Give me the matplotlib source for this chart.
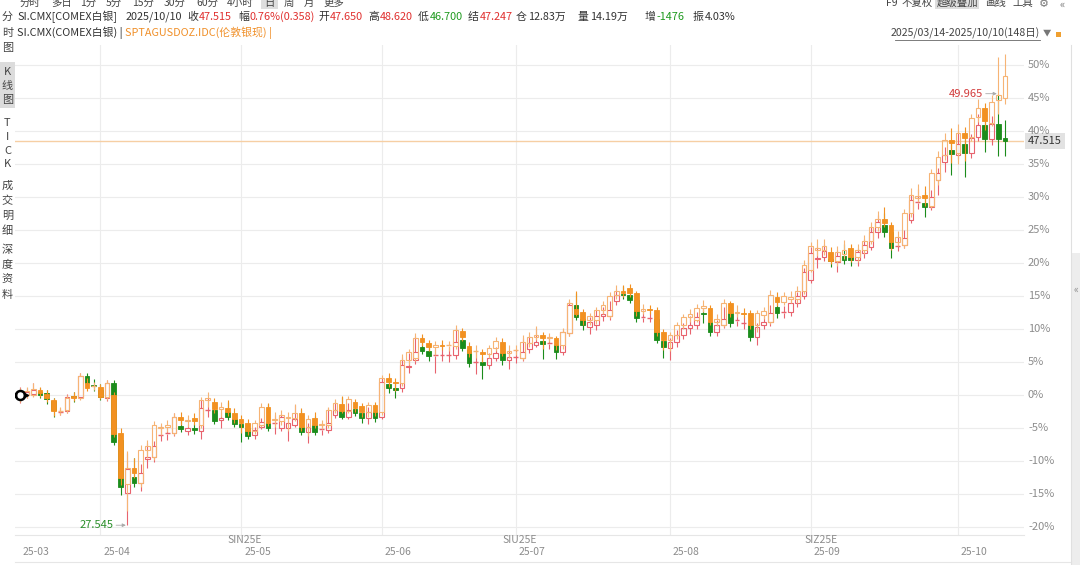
import matplotlib
matplotlib.use("Agg")
import matplotlib.pyplot as plt
from matplotlib.patches import Rectangle

plt.rcParams['font.family'] = ['Noto Sans CJK SC', 'DejaVu Sans']

# SI.CMX (COMEX silver) daily candles, % change vs 2025/03/14 close
si_open = [-0.3, 0.0, 0.1, 0.5, 0.3, -0.9, -2.6, -2.4, -0.2, -0.3,
           2.9, 1.4, 0.8, -0.5, 1.8, -6.8, -14.8, -12.4, -13.3, -9.7,
           -9.4, -6.1, -5.9, -5.8, -4.7, -5.5, -5.0, -5.5, -2.3, -2.3,
           -3.8, -2.6, -3.6, -4.4, -5.0, -6.1, -4.8, -4.2, -4.2, -5.0,
           -5.0, -4.5, -4.8, -5.6, -4.5, -5.3, -5.3, -3.0, -2.4, -3.3,
           -2.1, -2.7, -3.5, -2.6, -3.3, 1.7, 1.0, 1.0, 4.2, 5.3,
           7.3, 6.7, 5.9, 6.0, 6.0, 6.0, 8.3, 6.8, 5.0, 5.0,
           4.5, 5.6, 6.4, 5.3, 5.8, 5.6, 7.0, 7.6, 8.2, 7.7,
           7.6, 6.5, 9.4, 13.7, 11.5, 10.3, 10.6, 12.0, 12.0, 14.2,
           15.3, 15.1, 14.4, 11.7, 11.7, 11.5, 8.2, 7.1, 8.0, 9.1,
           10.2, 10.6, 12.4, 11.1, 9.5, 10.6, 12.4, 11.2, 10.9, 10.6,
           8.8, 10.6, 11.1, 13.3, 12.4, 12.5, 13.9, 15.0, 17.4, 20.6,
           20.9, 20.6, 20.2, 21.0, 20.9, 20.5, 21.5, 22.4, 24.7, 25.8,
           24.7, 22.5, 22.7, 26.5, 29.1, 29.1, 28.5, 32.6, 35.3, 37.1,
           36.4, 38.0, 36.7, 39.1, 40.9, 38.8, 41.1, 38.9]
si_close = [0.0, 0.4, 0.7, 0.0, -0.6, -2.3, -2.5, -0.3, -0.3, 2.9,
            1.8, 1.3, -0.3, 1.8, -7.1, -13.9, -11.2, -13.3, -11.8, -9.4,
            -7.7, -6.0, -5.8, -3.3, -5.2, -5.0, -5.3, -2.0, -2.3, -3.9,
            -3.5, -3.3, -4.4, -4.8, -6.2, -5.3, -4.1, -5.0, -4.2, -3.3,
            -4.3, -3.6, -5.6, -4.8, -5.6, -5.2, -4.2, -2.3, -3.3, -2.3,
            -2.7, -3.5, -2.6, -3.5, 2.0, 1.1, 0.8, 4.5, 4.4, 6.5,
            6.7, 5.9, 6.0, 6.0, 6.0, 8.0, 7.1, 4.8, 5.0, 4.5,
            5.6, 6.4, 5.3, 5.8, 5.8, 6.5, 7.9, 8.0, 7.7, 7.8,
            6.5, 9.5, 13.7, 11.8, 10.6, 11.0, 12.0, 12.3, 12.9, 15.2,
            15.2, 14.4, 11.7, 11.8, 11.7, 8.3, 7.3, 8.0, 9.1, 10.2,
            10.6, 11.8, 12.3, 9.5, 10.6, 11.5, 10.9, 11.3, 10.9, 8.8,
            10.3, 11.1, 12.4, 12.4, 12.5, 13.9, 15.0, 18.6, 21.5, 20.8,
            21.8, 20.3, 21.0, 20.5, 20.5, 21.7, 22.7, 24.7, 26.2, 24.7,
            22.3, 22.6, 23.8, 29.5, 29.2, 28.5, 30.0, 33.6, 36.4, 36.5,
            38.0, 36.7, 38.9, 40.9, 38.8, 41.1, 38.8, 38.5]
si_high = [1.2, 1.0, 1.8, 1.0, 0.8, -0.5, -2.0, 0.2, 0.5, 3.4,
           3.3, 2.4, 1.6, 2.3, 2.2, -6.0, -8.8, -9.6, -10.5, -7.2,
           -7.0, -4.5, -4.9, -2.8, -3.6, -4.4, -4.4, -0.8, -0.5, -1.8,
           -2.5, -1.0, -3.0, -3.8, -4.5, -4.8, -3.5, -1.4, -3.0, -2.9,
           -3.8, -1.5, -2.3, -4.3, -3.2, -4.3, -2.0, -1.0, -0.3, -1.2,
           -1.2, -1.9, -1.8, -1.4, 2.6, 2.7, 1.8, 5.8, 6.3, 9.0,
           8.8, 7.8, 7.0, 7.8, 7.2, 10.2, 9.1, 7.3, 6.8, 5.8,
           6.4, 7.3, 7.0, 6.6, 6.9, 8.7, 9.0, 10.2, 9.0, 8.9,
           8.0, 10.0, 14.3, 15.5, 12.6, 11.8, 12.8, 13.4, 14.2, 16.0,
           16.5, 16.0, 14.9, 12.9, 12.8, 11.9, 8.9, 8.7, 9.8, 10.9,
           12.0, 12.6, 13.2, 11.7, 11.3, 13.4, 12.9, 12.6, 12.0, 11.3,
           10.9, 12.0, 13.6, 14.1, 13.5, 14.4, 15.6, 19.2, 22.4, 22.6,
           22.8, 21.5, 22.0, 22.8, 22.0, 22.3, 23.6, 25.5, 27.2, 27.6,
           25.2, 24.0, 25.0, 30.5, 31.2, 30.8, 31.0, 34.4, 37.6, 38.3,
           40.0, 38.8, 39.5, 42.6, 42.0, 42.2, 45.6, 41.7]
si_low = [-1.2, -0.5, -0.2, -0.5, -1.4, -3.3, -3.0, -2.8, -1.0, -0.6,
          1.2, 0.6, -0.8, -0.9, -7.6, -15.2, -19.7, -13.9, -14.6, -11.0,
          -10.1, -7.0, -6.8, -6.2, -5.6, -6.0, -5.9, -6.6, -3.3, -4.4,
          -5.0, -3.8, -4.9, -7.1, -6.6, -6.6, -5.2, -5.5, -5.9, -5.5,
          -6.9, -4.9, -6.0, -7.2, -6.1, -6.0, -5.8, -3.5, -3.7, -3.7,
          -3.2, -4.2, -4.4, -4.1, -3.7, 0.3, -0.5, 0.5, 3.4, 4.7,
          6.2, 5.2, 3.4, 5.2, 5.0, 5.5, 6.6, 4.2, 3.2, 2.4,
          4.0, 5.1, 4.6, 3.9, 4.8, 5.2, 6.3, 7.3, 5.5, 7.0,
          5.4, 6.0, 9.0, 11.3, 9.8, 9.2, 9.8, 11.2, 11.3, 13.6,
          14.5, 13.9, 11.0, 11.0, 11.0, 7.8, 5.6, 5.3, 7.2, 8.5,
          9.3, 10.0, 10.9, 9.0, 9.0, 10.1, 10.3, 10.4, 10.0, 8.2,
          7.5, 10.0, 10.5, 11.7, 11.6, 12.0, 13.4, 14.5, 17.0, 19.3,
          20.3, 19.4, 18.7, 19.8, 19.6, 19.5, 20.8, 22.0, 23.8, 24.0,
          20.8, 21.8, 22.2, 26.0, 28.2, 26.9, 28.0, 30.3, 33.8, 33.3,
          35.8, 33.0, 35.9, 38.5, 36.8, 37.9, 36.2, 36.2]

# SPTAGUSDOZ.IDC (London spot silver) overlay, % change vs 2025/03/14 close
ag_open = [-0.3, 0.0, 0.0, 0.8, 0.2, -0.8, -2.5, -2.3, -0.2, -0.5,
           1.8, 1.3, 1.2, -0.3, 0.0, -5.8, -13.5, -11.1, -13.3, -8.3,
           -9.4, -5.0, -4.8, -5.8, -3.3, -4.0, -3.5, -4.5, -0.8, -1.0,
           -2.1, -2.0, -2.7, -3.6, -4.2, -5.5, -4.5, -1.8, -3.8, -4.0,
           -3.5, -3.5, -2.7, -4.8, -3.5, -4.6, -4.5, -2.3, -1.4, -2.4,
           -1.1, -1.7, -2.6, -1.5, -2.6, 2.6, 2.0, 1.8, 5.3, 5.6,
           8.6, 7.9, 7.3, 7.6, 7.4, 7.4, 9.7, 7.4, 6.6, 6.5,
           6.2, 7.1, 8.0, 6.4, 6.7, 5.6, 7.9, 8.8, 9.1, 8.6,
           8.6, 7.6, 9.4, 13.0, 12.6, 11.4, 11.3, 12.9, 12.0, 15.2,
           15.8, 16.2, 15.4, 12.7, 13.0, 12.9, 9.5, 8.3, 9.1, 10.6,
           11.8, 11.4, 13.2, 13.2, 11.1, 10.6, 13.9, 12.4, 12.4, 12.4,
           10.6, 12.1, 11.1, 14.8, 14.1, 14.5, 14.5, 15.8, 19.0, 22.0,
           22.0, 21.7, 20.3, 21.3, 22.3, 20.9, 22.0, 23.3, 25.5, 26.6,
           25.8, 23.2, 22.7, 27.6, 29.9, 30.3, 28.6, 32.6, 36.4, 38.6,
           36.7, 39.7, 39.1, 42.1, 43.5, 41.2, 44.7, 45.0]
ag_close = [0.0, 0.6, 0.9, 0.3, -0.4, -2.4, -2.4, -0.5, -0.4, 2.9,
            1.1, 1.4, -0.3, 1.8, -5.9, -12.6, -11.0, -11.8, -8.3, -7.7,
            -4.5, -4.8, -4.6, -3.3, -3.8, -3.8, -3.9, -0.8, -0.5, -2.1,
            -1.8, -2.6, -3.6, -4.2, -5.5, -4.2, -1.8, -4.2, -3.6, -3.0,
            -3.3, -2.7, -4.8, -3.6, -4.5, -4.4, -2.3, -1.2, -2.4, -0.6,
            -2.0, -2.6, -1.5, -2.6, 2.6, 2.0, 1.8, 5.3, 6.5, 8.6,
            8.0, 7.3, 7.6, 7.4, 7.5, 9.8, 8.8, 6.4, 6.6, 6.2,
            7.1, 8.2, 6.4, 6.7, 6.8, 8.0, 8.8, 9.1, 8.6, 8.8,
            7.6, 9.6, 14.0, 12.3, 11.4, 11.9, 12.9, 13.6, 15.0, 15.8,
            15.4, 15.4, 12.7, 13.0, 12.9, 9.5, 8.3, 9.1, 10.6, 11.8,
            12.2, 13.2, 13.5, 11.1, 11.5, 13.9, 12.4, 12.6, 12.3, 10.6,
            12.4, 12.7, 15.2, 14.1, 15.0, 14.9, 15.8, 19.7, 22.5, 22.2,
            22.6, 20.3, 21.6, 22.0, 20.9, 22.0, 23.3, 25.5, 26.6, 26.1,
            23.2, 24.0, 27.6, 30.3, 30.2, 29.9, 33.6, 36.1, 38.6, 38.2,
            39.7, 38.9, 42.0, 43.5, 41.5, 44.4, 45.5, 48.3]
ag_high = [1.0, 1.2, 1.8, 1.2, 0.8, -0.4, -1.8, 0.0, 0.4, 3.3,
           2.6, 2.0, 1.6, 2.2, 0.5, -5.0, -8.5, -9.5, -7.6, -6.8,
           -4.0, -4.2, -3.8, -2.8, -2.6, -3.0, -2.8, -0.3, 0.5, -0.5,
           -1.0, -0.8, -2.0, -3.0, -3.7, -3.8, -1.2, -1.2, -2.6, -2.2,
           -2.5, -1.3, -2.0, -3.1, -2.6, -3.8, -1.8, -0.6, -0.2, -0.2,
           -0.6, -1.2, -1.0, -1.0, 3.0, 3.3, 2.6, 6.2, 7.0, 9.4,
           9.2, 8.4, 8.2, 8.4, 8.2, 10.6, 10.2, 8.0, 7.6, 7.0,
           7.6, 8.8, 8.6, 7.5, 7.6, 9.1, 9.6, 10.4, 9.6, 9.4,
           9.0, 10.2, 14.6, 15.7, 13.0, 12.4, 13.4, 14.2, 15.6, 16.6,
           16.6, 16.8, 15.8, 13.8, 13.7, 13.3, 10.0, 9.6, 11.1, 12.3,
           13.0, 13.8, 14.4, 13.6, 12.3, 14.5, 14.2, 13.6, 13.2, 12.8,
           12.9, 13.4, 15.9, 15.6, 15.6, 15.8, 16.5, 20.4, 23.2, 23.6,
           23.6, 22.4, 22.5, 23.4, 22.9, 22.8, 24.2, 26.2, 27.8, 28.4,
           26.2, 24.9, 28.2, 31.3, 32.0, 31.6, 34.2, 36.9, 39.6, 40.4,
           41.0, 40.6, 42.6, 44.8, 44.2, 45.4, 51.2, 51.6]
ag_low = [-1.0, -0.4, -0.3, -0.3, -1.0, -3.2, -3.0, -2.7, -0.9, -0.7,
          0.6, 0.7, -0.6, -0.7, -6.3, -13.6, -17.5, -12.6, -13.9, -9.5,
          -9.9, -6.0, -5.6, -6.0, -4.6, -4.8, -4.6, -5.0, -1.8, -2.8,
          -3.4, -3.2, -4.2, -5.8, -6.0, -5.9, -4.9, -4.7, -4.8, -4.6,
          -5.5, -4.0, -5.4, -6.2, -5.0, -5.2, -5.0, -2.8, -2.8, -2.8,
          -2.5, -3.3, -3.4, -3.2, -3.0, 1.2, 0.6, 1.3, 4.6, 5.2,
          7.4, 6.6, 6.0, 6.8, 6.6, 7.0, 8.2, 5.8, 5.6, 5.0,
          5.6, 6.6, 5.9, 5.6, 6.0, 5.3, 7.2, 8.3, 7.0, 8.0,
          6.8, 7.0, 9.0, 11.9, 10.6, 10.6, 10.8, 12.3, 11.7, 14.6,
          14.9, 14.8, 12.0, 12.2, 12.2, 9.0, 6.8, 6.6, 8.5, 10.0,
          11.0, 11.0, 12.5, 10.6, 10.5, 10.3, 11.8, 11.8, 11.6, 10.0,
          9.6, 11.5, 10.8, 13.5, 13.6, 13.9, 14.0, 15.3, 18.6, 21.0,
          21.2, 19.8, 19.6, 20.6, 20.2, 20.2, 21.4, 22.9, 24.8, 25.4,
          22.0, 22.6, 22.3, 27.0, 29.2, 28.6, 28.3, 31.8, 35.6, 35.2,
          35.0, 35.5, 38.4, 41.4, 40.2, 40.8, 42.5, 44.0]

si_base = 34.31          # 2025/03/14 close of SI.CMX
last_price = 47.515
max_price, max_idx = 49.965, 146
min_price, min_idx = 27.545, 16

month_labels = ["25-03", "25-04", "25-05", "25-06", "25-07", "25-08", "25-09", "25-10"]
month_start = [0, 12, 33, 54, 74, 97, 118, 140]
roll_labels = ["SIN25E", "SIU25E", "SIZ25E"]
roll_idx = [33, 74, 119]
pct_ticks = list(range(-20, 55, 5))

W, H = 1080, 565
fig = plt.figure(figsize=(W / 100, H / 100), dpi=100)
fig.patch.set_facecolor("white")
renderer = fig.canvas.get_renderer()


def ftext(px, py, s, **kw):
    kw.setdefault("va", "center")
    kw.setdefault("fontsize", 8)
    return fig.text(px / W, 1 - py / H, s, **kw)


def row(px, py, parts, gap=1, **kw):
    # lay out texts one after another, starting at px
    for s, col in parts:
        t = ftext(px, py, s, color=col, ha="left", **kw)
        px = t.get_window_extent(renderer).x1 + gap
    return px


ax = fig.add_axes([15 / W, 1 - 535 / H, (1024 - 15) / W, (535 - 45) / H])
ax.set_xlim(-0.75, 149.85)
ax.set_ylim(-21.2, 53.0)
for s in ax.spines.values():
    s.set_visible(False)
ax.set_xticks([])
ax.set_yticks([])

for p in pct_ticks:
    ax.axhline(p, color="#ececec", lw=0.8, zorder=0)
for m in month_start[1:]:
    ax.axvline(m, color="#ececec", lw=0.8, zorder=0)


def candles(o, h, l, c, up_col, dn_col, z):
    w = 0.7
    for i in range(len(o)):
        top, bot = max(o[i], c[i]), min(o[i], c[i])
        if c[i] >= o[i]:
            ax.vlines(i, top, h[i], color=up_col, lw=0.8, zorder=z)
            ax.vlines(i, l[i], bot, color=up_col, lw=0.8, zorder=z)
            if top - bot < 0.15:
                ax.hlines(top, i - w / 2, i + w / 2, color=up_col, lw=1.0, zorder=z)
            else:
                ax.add_patch(Rectangle((i - w / 2, bot), w, top - bot, facecolor="none",
                                       edgecolor=up_col, lw=0.8, zorder=z))
        else:
            ax.vlines(i, l[i], h[i], color=dn_col, lw=0.8, zorder=z)
            ax.add_patch(Rectangle((i - w / 2, bot), w, max(top - bot, 0.15), facecolor=dn_col,
                                   edgecolor=dn_col, lw=0.6, zorder=z + 0.1))


candles(si_open, si_high, si_low, si_close, "#e8636e", "#1b8c1b", 3)
candles(ag_open, ag_high, ag_low, ag_close, "#f6b475", "#f29121", 4)

# last price line
last_pct = (last_price / si_base - 1) * 100
ax.axhline(last_pct, color="#f6cfa4", lw=1.0, zorder=2)
ax.text(1 + 4 / 1009, last_pct, f"{last_price:.3f}", transform=ax.get_yaxis_transform(),
        fontsize=8, color="#333333", va="center", ha="left",
        bbox=dict(boxstyle="square,pad=0.3", fc="#e2e2e2", ec="none"), clip_on=False)

# right percent axis
for p in pct_ticks:
    ax.text(1 + 4 / 1009, p, f"{p}%", transform=ax.get_yaxis_transform(), fontsize=8,
            color="#8c8c8c", va="center", ha="left", clip_on=False)

# max / min annotations
ax.annotate(f"{max_price:.3f}", xy=(max_idx, (max_price / si_base - 1) * 100),
            xytext=(-11, 0), textcoords="offset points", ha="right", va="center",
            fontsize=8, color="#d23a3a",
            arrowprops=dict(arrowstyle="-|>", color="#aaaaaa", lw=0.6, mutation_scale=5,
                            shrinkA=0, shrinkB=1))
ax.annotate(f"{min_price:.3f}", xy=(min_idx, (min_price / si_base - 1) * 100),
            xytext=(-10, 0), textcoords="offset points", ha="right", va="center",
            fontsize=8, color="#2a8f2a",
            arrowprops=dict(arrowstyle="-|>", color="#aaaaaa", lw=0.6, mutation_scale=5,
                            shrinkA=0, shrinkB=1))

# overlay anchor marker on the first bar
ax.plot(0, 0, "o", ms=6.5, mfc="white", mec="black", mew=1.8, zorder=6)
ax.plot(-0.9, 0, marker="<", ms=3, color="black", zorder=6)
ax.plot(0.9, 0, marker=">", ms=3, color="black", zorder=6)

# x axis labels
for lab, m in zip(month_labels, month_start):
    ftext(20 + 6.7 * m + 3, 552, lab, fontsize=7.5, color="#8c8c8c", ha="left")
for lab, r in zip(roll_labels, roll_idx):
    ftext(20 + 6.7 * r + 4, 540, lab, fontsize=7.5, color="#8c8c8c", ha="center")
fig.add_artist(plt.Line2D([15 / W, 1024 / W], [1 - 535 / H] * 2, color="#e6e6e6", lw=0.8))
fig.add_artist(plt.Line2D([15 / W, 1071 / W], [1 - 562 / H] * 2, color="#e6e6e6", lw=0.8))

# right edge panel
fig.add_artist(plt.Line2D([1071 / W] * 2, [0, 1 - 45 / H], color="#e0e0e0", lw=0.8))
fig.add_artist(Rectangle((1072 / W, 0), 8 / W, 1 - 253 / H, transform=fig.transFigure,
                         fc="#ededed", ec="none"))
ftext(1076, 290, "«", fontsize=7, color="#888888", ha="center")

# toolbar (top edge of the window, partly cut off)
fig.add_artist(Rectangle((261 / W, 1 - 9 / H), 17 / W, 12 / H, transform=fig.transFigure,
                         fc="#dedede", ec="none"))
fig.add_artist(Rectangle((935 / W, 1 - 9 / H), 44 / W, 12 / H, transform=fig.transFigure,
                         fc="#dedede", ec="none"))
for lab, xp in [("分时", 20), ("多日", 51), ("1分", 80), ("5分", 106), ("15分", 132),
                ("30分", 164), ("60分", 196), ("4小时", 227), ("日", 264), ("周", 284),
                ("月", 304), ("更多", 323)]:
    ftext(xp, 3, lab, fontsize=7.5, color="#444444", ha="left")
for lab, xp in [("F9", 886), ("不复权", 902), ("超级叠加", 937), ("画线", 985), ("工具", 1012)]:
    ftext(xp, 3, lab, fontsize=7.5, color="#444444", ha="left")
ftext(1044, 4, "⚙", fontsize=8, color="#777777", ha="center")
ftext(1062, 5, "«", fontsize=8, color="#777777", ha="center")

# quote header
red, green, dark = "#e0302f", "#1f9a1f", "#333333"
groups = [(17, [("SI.CMX[COMEX白银]", dark)]), (126, [("2025/10/10", dark)]),
          (187, [("收", dark), ("47.515", red)]), (238, [("幅", dark), ("0.76%(0.358)", red)]),
          (318, [("开", dark), ("47.650", red)]), (368, [("高", dark), ("48.620", red)]),
          (418, [("低", dark), ("46.700", green)]), (468, [("结", dark), ("47.247", red)]),
          (516, [("仓", dark), ("12.83万", dark)]), (578, [("量", dark), ("14.19万", dark)]),
          (645, [("增", dark), ("-1476", green)]), (693, [("振", dark), ("4.03%", dark)])]
for x0, parts in groups:
    row(x0, 17, parts, gap=1, fontsize=7.8)
row(17, 33, [("SI.CMX(COMEX白银) | ", dark), ("SPTAGUSDOZ.IDC(伦敦银现) |", "#f0902a")],
    gap=0, fontsize=7.8)
ftext(1040, 33, "2025/03/14-2025/10/10(148日)", fontsize=7.6, color="#444444", ha="right")
fig.add_artist(plt.Line2D([895 / W, 1040 / W], [1 - 39.5 / H] * 2, color="#666666", lw=0.6))
ftext(1047, 33, "▼", fontsize=6, color="#777777", ha="center")
fig.add_artist(Rectangle((1056 / W, 1 - 37 / H), 5 / W, 5 / H, transform=fig.transFigure,
                         fc="#f0a030", ec="none"))

# left tab bar
fig.add_artist(Rectangle((0, 1 - 108 / H), 15 / W, 46 / H, transform=fig.transFigure,
                         fc="#dcdcdc", ec="none"))
tabs = [("分", 17), ("时", 33), ("图", 48), ("K", 72), ("线", 86), ("图", 100),
        ("T", 123), ("I", 137), ("C", 151), ("K", 164), ("成", 186), ("交", 201),
        ("明", 216), ("细", 231), ("深", 250), ("度", 265), ("资", 280), ("料", 295)]
for s, yp in tabs:
    ftext(7.5, yp, s, fontsize=8, color="#444444", ha="center")

fig.savefig("out.png", dpi=100, facecolor="white")
